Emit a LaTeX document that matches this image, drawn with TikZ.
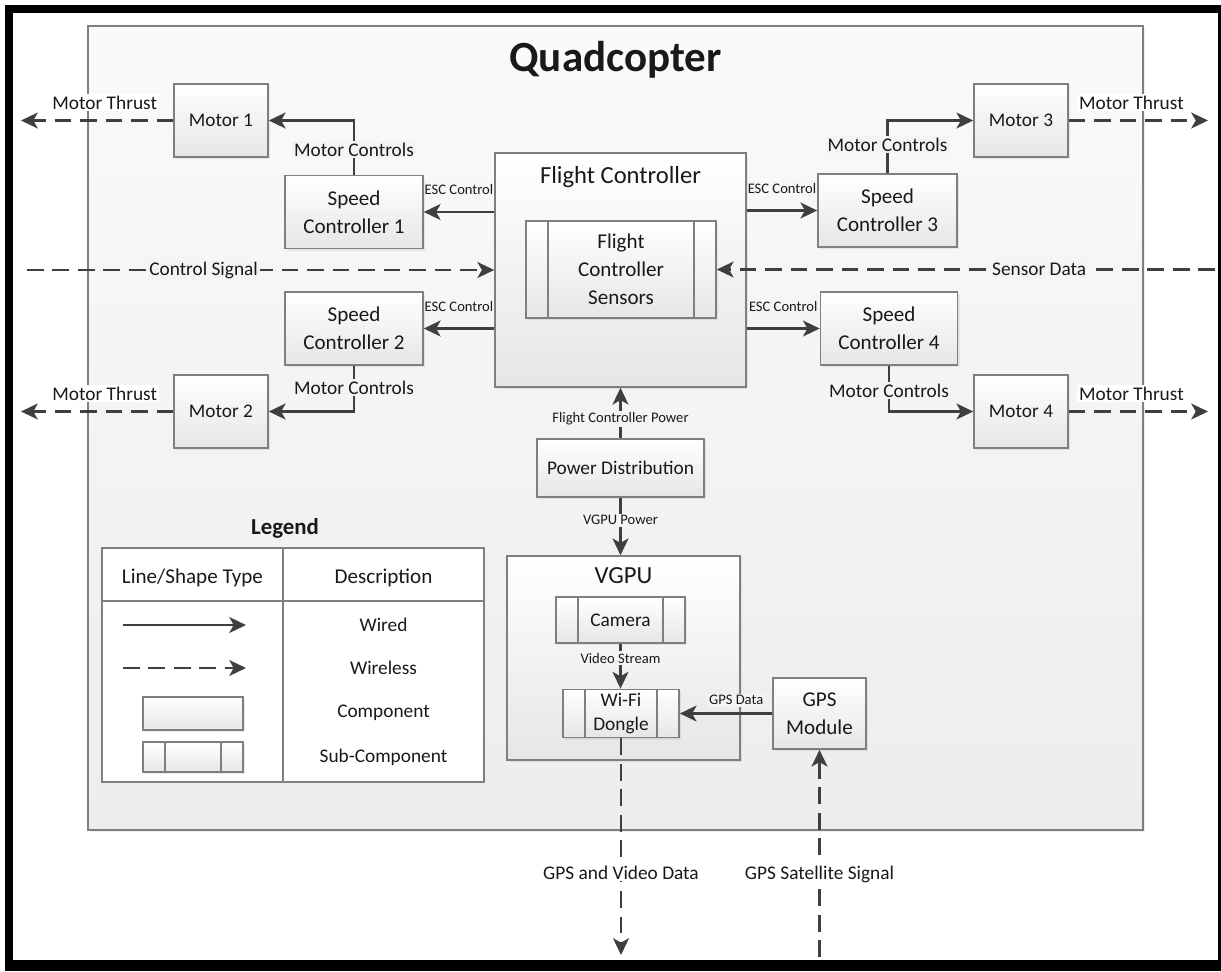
\documentclass[tikz,border=0pt]{standalone}
\usepackage{fontspec}
\setmainfont{Carlito}
\usepackage{tikz}
\usetikzlibrary{arrows.meta,positioning,shadows}

\definecolor{linegray}{HTML}{7F7F7F}
\definecolor{arrowgray}{HTML}{3F3F3F}
\definecolor{qtop}{HTML}{FAFAFA}
\definecolor{qbot}{HTML}{EDEDED}
\definecolor{qmid}{HTML}{F4F4F4}
\definecolor{boxbot}{HTML}{E6E6E6}
\newcommand{\fsz}[2]{\fontsize{#1}{#2}\selectfont}

\begin{document}
\begin{tikzpicture}[x=0.02cm, y=-0.02cm, >={Stealth[length=9.5pt,width=9pt,inset=2.5pt]},
	boxline/.style={draw=linegray, line width=0.9pt},
	comp/.style 2 args={rectangle, boxline, top color=white, bottom color=boxbot,
		minimum width=#1*0.02cm, minimum height=#2*0.02cm, inner sep=2pt,
		align=center, font=\fsz{11}{14}, text=black!90,
		drop shadow={shadow xshift=1.2pt, shadow yshift=-1.2pt, opacity=0.15}},
	subcomp/.style 2 args={comp={#1}{#2},
		path picture={\draw[boxline]
			([xshift=0.44cm]path picture bounding box.north west) -- ([xshift=0.44cm]path picture bounding box.south west)
			([xshift=-0.44cm]path picture bounding box.north east) -- ([xshift=-0.44cm]path picture bounding box.south east);}},
	quadbox/.style={rectangle, boxline, top color=qtop, bottom color=qbot,
		minimum width=1055*0.02cm, minimum height=804*0.02cm,
		drop shadow={shadow xshift=1.2pt, shadow yshift=-1.2pt, opacity=0.12}},
	ttl/.style={font=\fsz{14}{16}, text=black!90},
	lbl/.style={fill=qmid, inner sep=1pt, font=\fsz{11}{13}, text=black!90},
	small/.style={lbl, font=\fsz{8.3}{10}},
	txt/.style={inner sep=1pt, font=\fsz{11}{13}, text=black!90},
	wire/.style={->, draw=arrowgray, line width=1.6pt},
	wireless/.style={wire, dash pattern=on 9.5pt off 5pt}]
	\useasboundingbox (0,0) rectangle (1221,971);
	% frame
	\fill[black] (5,5) rectangle (1221,971);
	\fill[white] (13,13) rectangle (1218,960);

	% quadcopter body
	\node[quadbox] (quad) at (615.5,428) {};
	\node[font=\bfseries\fsz{24.5}{27}, text=black!90] (qtitle) at (615.5,60) {Quadcopter};

	% components
	\node[comp={94}{73}] (m1) at (221,120.5) {Motor 1};
	\node[comp={94}{73}] (m2) at (221,411.5) {Motor 2};
	\node[comp={94}{73}] (m3) at (1021,120.5) {Motor 3};
	\node[comp={94}{73}] (m4) at (1021,411.5) {Motor 4};
	\node[comp={138}{73}, font=\fsz{12}{16}] (sc1) at (354,212) {Speed\\Controller 1};
	\node[comp={138}{73}, font=\fsz{12}{16}] (sc2) at (354,328.5) {Speed\\Controller 2};
	\node[comp={139}{73}, font=\fsz{12}{16}] (sc3) at (887.5,210.5) {Speed\\Controller 3};
	\node[comp={137}{73}, font=\fsz{12}{16}] (sc4) at (889,328.5) {Speed\\Controller 4};
	\node[comp={251}{234}] (fc) at (620.5,270) {};
	\node[ttl] (fctitle) at (620.5,177) {Flight Controller};
	\node[subcomp={190}{97}, font=\fsz{12}{16}] (fcs) at (621,269.5) {Flight\\Controller\\Sensors};
	\node[comp={167}{58}] (pd) at (620.5,468) {Power Distribution};
	\node[comp={233}{204}] (vgpu) at (623.5,658) {};
	\node[ttl] (vgputitle) at (623.5,576) {VGPU};
	\node[subcomp={129}{46}] (cam) at (620.5,620) {Camera};
	\node[subcomp={116}{47}] (wifi) at (621,713.5) {Wi-Fi\\Dongle};
	\node[comp={93}{71}, font=\fsz{12}{16}] (gps) at (819.5,713.5) {GPS\\Module};

	% free ends
	\coordinate (t1) at (21,120.5);
	\coordinate (t2) at (21,411.5);
	\coordinate (t3) at (1208,120.5);
	\coordinate (t4) at (1208,411.5);
	\coordinate (csig) at (27,270);
	\coordinate (sdat) at (1215,269.5);
	\coordinate (vout) at (621,955);
	\coordinate (satin) at (819.5,957);

	% thrust
	\draw[wireless] (m1.west) -- node[lbl, fill=white, pos=0.45, above=4.5pt] {Motor Thrust} (t1);
	\draw[wireless] (m2.west) -- node[lbl, fill=white, pos=0.45, above=4.5pt] {Motor Thrust} (t2);
	\draw[wireless] (m3.east) -- node[lbl, fill=white, pos=0.45, above=4.5pt] {Motor Thrust} (t3);
	\draw[wireless] (m4.east) -- node[lbl, fill=white, pos=0.45, above=4.5pt] {Motor Thrust} (t4);

	% motor controls
	\draw[wire] (sc1.north) |- node[lbl, pos=0.23] {Motor Controls} (m1.east);
	\draw[wire] (sc2.south) |- node[lbl, pos=0.24] {Motor Controls} (m2.east);
	\draw[wire] (sc3.north) |- node[lbl, pos=0.27] {Motor Controls} (m3.west);
	\draw[wire] (sc4.south) |- node[lbl, pos=0.27] {Motor Controls} (m4.west);

	% esc control
	\draw[wire] (fc.west |- sc1) -- node[small, fill=none, above=8pt] {ESC Control} (sc1.east);
	\draw[wire] (fc.west |- sc2) -- node[small, fill=none, above=8pt] {ESC Control} (sc2.east);
	\draw[wire] (fc.east |- sc3) -- node[small, fill=none, above=8pt] {ESC Control} (sc3.west);
	\draw[wire] (fc.east |- sc4) -- node[small, fill=none, above=8pt] {ESC Control} (sc4.west);

	% signals
	\draw[wireless] (csig) -- node[lbl, pos=0.378] {Control Signal} (fc.west);
	\draw[wireless] (sdat) -- node[lbl, pos=0.353] {Sensor Data} (fcs.east);

	% power and vgpu
	\draw[wire] (pd.north) -- node[small, pos=0.38] {Flight Controller Power} (fc.south);
	\draw[wire] (pd.south) -- node[small, pos=0.39] {VGPU Power} (pd.south |- vgpu.north);
	\draw[wire] (cam.south) -- node[small, pos=0.32] {Video Stream} (cam.south |- wifi.north);
	\draw[wire] (gps.west) -- node[small, pos=0.39, above=3pt] {GPS Data} (wifi.east);
	\draw[wireless] (wifi.south) -- node[lbl, fill=white, pos=0.62] {GPS and Video Data} (vout);
	\draw[wireless] (satin) -- node[lbl, fill=white, pos=0.40] {GPS Satellite Signal} (gps.south);

	% legend
	\node[font=\bfseries\fsz{13}{15}, text=black!90] (legtitle) at (285,528) {Legend};
	\node[rectangle, boxline, fill=white, minimum width=382*0.02cm, minimum height=234*0.02cm] (legtab) at (293,665) {};
	\draw[boxline] (283,548) -- (283,782) (102,601) -- (484,601);
	\node[txt, font=\fsz{12}{14}] (hshape) at (192.5,578) {Line/Shape Type};
	\node[txt, font=\fsz{12}{14}] (hdesc) at (383.5,578) {Description};
	\node[txt] (dwired) at (383.5,625) {Wired};
	\node[txt] (dwireless) at (383.5,668) {Wireless};
	\node[txt] (dcomp) at (383.5,713) {Component};
	\node[txt] (dsub) at (383.5,757) {Sub-Component};
	\draw[wire] (123,625) -- (246,625);
	\draw[wireless] (123,668) -- (246,668);
	\node[comp={100}{33}] (lcomp) at (193,713.5) {};
	\node[subcomp={100}{30}] (lsub) at (193,757) {};
\end{tikzpicture}
\end{document}
